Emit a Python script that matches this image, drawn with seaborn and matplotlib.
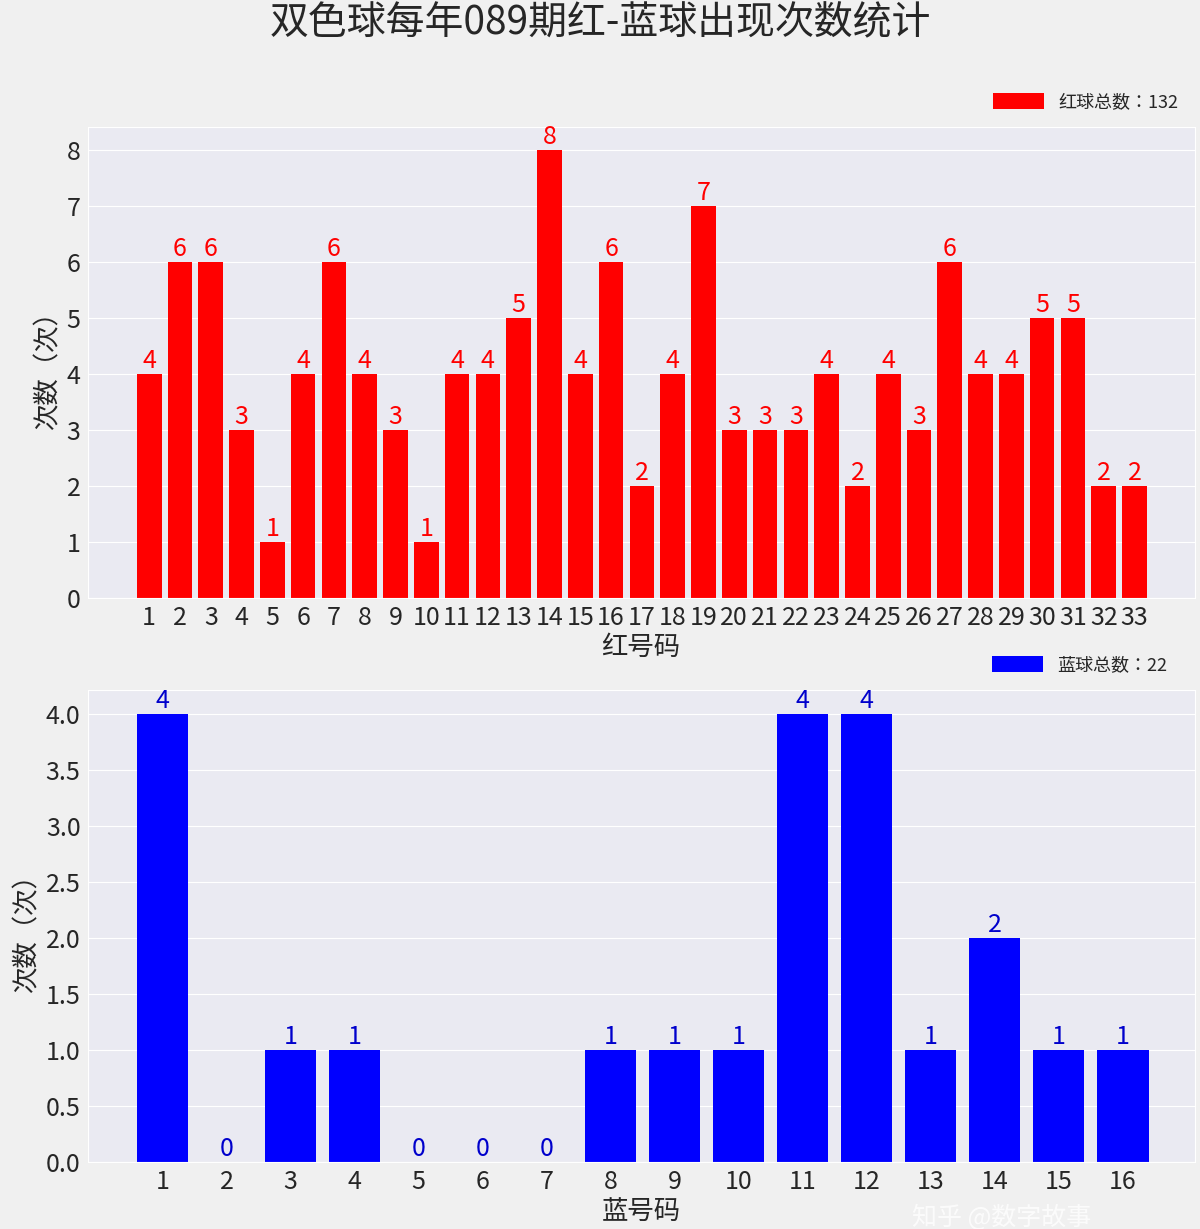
import matplotlib
matplotlib.use("Agg")
import matplotlib.pyplot as plt
import seaborn as sns
import pandas as pd

# ── Data ──────────────────────────────────────────────────────────────────────
RED_NUMS = [str(i) for i in range(1, 34)]
RED_COUNTS = [4, 6, 6, 3, 1, 4, 6, 4, 3, 1, 4, 4, 5, 8, 4, 6, 2, 4, 7, 3, 3, 3, 4, 2, 4, 3, 6, 4, 4, 5, 5, 2, 2]
BLUE_NUMS = [str(i) for i in range(1, 17)]
BLUE_COUNTS = [4, 0, 1, 1, 0, 0, 0, 1, 1, 1, 4, 4, 1, 2, 1, 1]

red_df = pd.DataFrame({"num": RED_NUMS, "count": RED_COUNTS})
blue_df = pd.DataFrame({"num": BLUE_NUMS, "count": BLUE_COUNTS})

sns.set_style("darkgrid", {"axes.facecolor": "#EAEAF2", "grid.color": "white"})
plt.rcParams["font.family"] = "sans-serif"
plt.rcParams["font.sans-serif"] = ["Noto Sans CJK SC", "Noto Sans CJK JP", "Noto Sans CJK TC", "DejaVu Sans"]
plt.rcParams["axes.unicode_minus"] = False

fig = plt.figure(figsize=(12, 12.29), dpi=100, facecolor="#F0F0F0")
fig.suptitle("双色球每年089期红-蓝球出现次数统计", fontsize=28, y=0.997)

ax1 = fig.add_axes([0.073, 0.5134, 0.9225, 0.383])
ax2 = fig.add_axes([0.073, 0.0545, 0.9225, 0.384])

# ── Red ───────────────────────────────────────────────────────────────────────
sns.barplot(data=red_df, x="num", y="count", color="#FF0000", saturation=1,
            width=0.8, linewidth=0, ax=ax1, label=f"红球总数：{sum(RED_COUNTS)}")
for i, v in enumerate(RED_COUNTS):
    ax1.text(i, v, str(v), ha="center", va="bottom", color="#FF0000", fontsize=18)
ax1.set_xlim(-2, 33.95)
ax1.set_ylim(0, 8.41)
ax1.set_yticks(range(0, 9))
ax1.set_xlabel("红号码", fontsize=19, labelpad=2)
ax1.set_ylabel("次数（次）", fontsize=19)
ax1.tick_params(labelsize=18, length=0, pad=5)
ax1.legend(loc="lower right", bbox_to_anchor=(1.0, 1.0), frameon=False, fontsize=13,
           handlelength=2.8, handleheight=1.0)

# ── Blue ──────────────────────────────────────────────────────────────────────
sns.barplot(data=blue_df, x="num", y="count", color="#0000FF", saturation=1,
            width=0.8, linewidth=0, ax=ax2, label=f"蓝球总数：{sum(BLUE_COUNTS)}")
for i, v in enumerate(BLUE_COUNTS):
    ax2.text(i, v, str(v), ha="center", va="bottom", color="#0000CC", fontsize=18)
ax2.set_xlim(-1.17, 16.12)
ax2.set_ylim(0, 4.21)
ax2.set_yticks([0, 0.5, 1, 1.5, 2, 2.5, 3, 3.5, 4])
ax2.set_yticklabels([f"{t:.1f}" for t in ax2.get_yticks()])
ax2.set_xlabel("蓝号码", fontsize=19, labelpad=2)
ax2.set_ylabel("次数（次）", fontsize=19)
ax2.tick_params(labelsize=18, length=0, pad=5)
ax2.legend(loc="lower right", bbox_to_anchor=(0.99, 1.0), frameon=False, fontsize=13,
           handlelength=2.8, handleheight=1.0)

fig.text(0.76, 0.003, "知乎 @数字故事", fontsize=18, color="white", alpha=0.8)

fig.savefig("out.png", dpi=100, facecolor=fig.get_facecolor())
